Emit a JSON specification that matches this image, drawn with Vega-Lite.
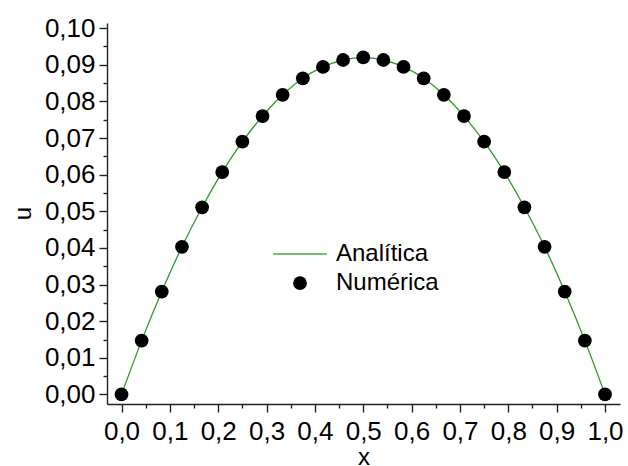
{
  "$schema": "https://vega.github.io/schema/vega-lite/v6.json",
  "width": 513,
  "height": 381,
  "autosize": {"type": "none"},
  "padding": {"left": 107, "top": 23, "right": 8, "bottom": 62},
  "background": "white",
  "config": {
    "view": {"stroke": null},
    "font": "Liberation Sans",
    "axis": {"labelOverlap": false, "labelFlush": false, "labelBound": false},
    "legend": {
      "orient": "none",
      "legendX": 181,
      "legendY": 219,
      "labelFont": "Liberation Sans",
      "labelFontSize": 24,
      "labelColor": "black",
      "labelOffset": 24,
      "symbolSize": 190,
      "rowPadding": 5.2,
      "padding": 0,
      "symbolStrokeWidth": 0,
      "symbolOpacity": 1
    }
  },
  "data": {
    "values": [
      {"x": 0, "u": 0, "serie": "Numérica"},
      {"x": 0.0417, "u": 0.0147, "serie": "Numérica"},
      {"x": 0.0833, "u": 0.0281, "serie": "Numérica"},
      {"x": 0.125, "u": 0.0403, "serie": "Numérica"},
      {"x": 0.1667, "u": 0.0511, "serie": "Numérica"},
      {"x": 0.2083, "u": 0.0607, "serie": "Numérica"},
      {"x": 0.25, "u": 0.069, "serie": "Numérica"},
      {"x": 0.2917, "u": 0.076, "serie": "Numérica"},
      {"x": 0.3333, "u": 0.0818, "serie": "Numérica"},
      {"x": 0.375, "u": 0.0863, "serie": "Numérica"},
      {"x": 0.4167, "u": 0.0894, "serie": "Numérica"},
      {"x": 0.4583, "u": 0.0913, "serie": "Numérica"},
      {"x": 0.5, "u": 0.092, "serie": "Numérica"},
      {"x": 0.5417, "u": 0.0913, "serie": "Numérica"},
      {"x": 0.5833, "u": 0.0894, "serie": "Numérica"},
      {"x": 0.625, "u": 0.0863, "serie": "Numérica"},
      {"x": 0.6667, "u": 0.0818, "serie": "Numérica"},
      {"x": 0.7083, "u": 0.076, "serie": "Numérica"},
      {"x": 0.75, "u": 0.069, "serie": "Numérica"},
      {"x": 0.7917, "u": 0.0607, "serie": "Numérica"},
      {"x": 0.8333, "u": 0.0511, "serie": "Numérica"},
      {"x": 0.875, "u": 0.0403, "serie": "Numérica"},
      {"x": 0.9167, "u": 0.0281, "serie": "Numérica"},
      {"x": 0.9583, "u": 0.0147, "serie": "Numérica"},
      {"x": 1, "u": 0, "serie": "Numérica"}
    ]
  },
  "encoding": {
    "x": {
      "field": "x",
      "type": "quantitative",
      "scale": {"domain": [-0.03, 1.031], "nice": false, "zero": false},
      "axis": {
        "values": [0, 0.05, 0.1, 0.15, 0.2, 0.25, 0.3, 0.35, 0.4, 0.45, 0.5, 0.55, 0.6, 0.65, 0.7, 0.75, 0.8, 0.85, 0.9, 0.95, 1.0],
        "labelExpr": "abs(datum.value*10 - round(datum.value*10)) < 0.01 ? replace(format(datum.value, '.1f'), '.', ',') : ''",
        "title": "x",
        "titleFont": "Liberation Sans",
        "titleFontSize": 24,
        "titleFontWeight": "normal",
        "titleColor": "black",
        "titleY": 60,
        "titleBaseline": "alphabetic",
        "labelFont": "Liberation Sans",
        "labelFontSize": 26,
        "labelColor": "black",
        "labelPadding": 6,
        "tickSize": {"condition": {"test": "abs(datum.value*10 - round(datum.value*10)) < 0.01", "value": 8}, "value": 4},
        "grid": false,
        "domainColor": "#222222",
        "domainWidth": 1.4,
        "tickColor": "#222222",
        "tickWidth": 1.4
      }
    },
    "y": {
      "field": "u",
      "type": "quantitative",
      "scale": {"domain": [-0.0026, 0.1014], "nice": false, "zero": false},
      "axis": {
        "values": [0, 0.005, 0.01, 0.015, 0.02, 0.025, 0.03, 0.035, 0.04, 0.045, 0.05, 0.055, 0.06, 0.065, 0.07, 0.075, 0.08, 0.085, 0.09, 0.095, 0.1],
        "labelExpr": "abs(datum.value*100 - round(datum.value*100)) < 0.01 ? replace(format(datum.value, '.2f'), '.', ',') : ''",
        "title": "u",
        "titleFont": "Liberation Sans",
        "titleFontSize": 24,
        "titleFontWeight": "normal",
        "titleColor": "black",
        "titleX": -84,
        "titleY": 190,
        "titleAlign": "center",
        "titleBaseline": "middle",
        "labelFont": "Liberation Sans",
        "labelFontSize": 26,
        "labelColor": "black",
        "labelPadding": 4,
        "tickSize": {"condition": {"test": "abs(datum.value*100 - round(datum.value*100)) < 0.01", "value": 8}, "value": 4},
        "grid": false,
        "domainColor": "#222222",
        "domainWidth": 1.4,
        "tickColor": "#222222",
        "tickWidth": 1.4
      }
    }
  },
  "layer": [
    {
      "mark": {"type": "line", "color": "#2a9a2a", "strokeWidth": 1.3, "interpolate": "monotone"}
    },
    {
      "mark": {"type": "point", "filled": true, "size": 190, "opacity": 1},
      "encoding": {
        "color": {
          "field": "serie",
          "type": "nominal",
          "scale": {"domain": ["Analítica", "Numérica"], "range": ["#74c174", "#000000"]},
          "legend": {"title": null}
        },
        "shape": {
          "field": "serie",
          "type": "nominal",
          "scale": {"domain": ["Analítica", "Numérica"], "range": ["M-3.92,-0.15H3.92V0.15H-3.92Z", "circle"]},
          "legend": {"title": null}
        }
      }
    }
  ]
}
